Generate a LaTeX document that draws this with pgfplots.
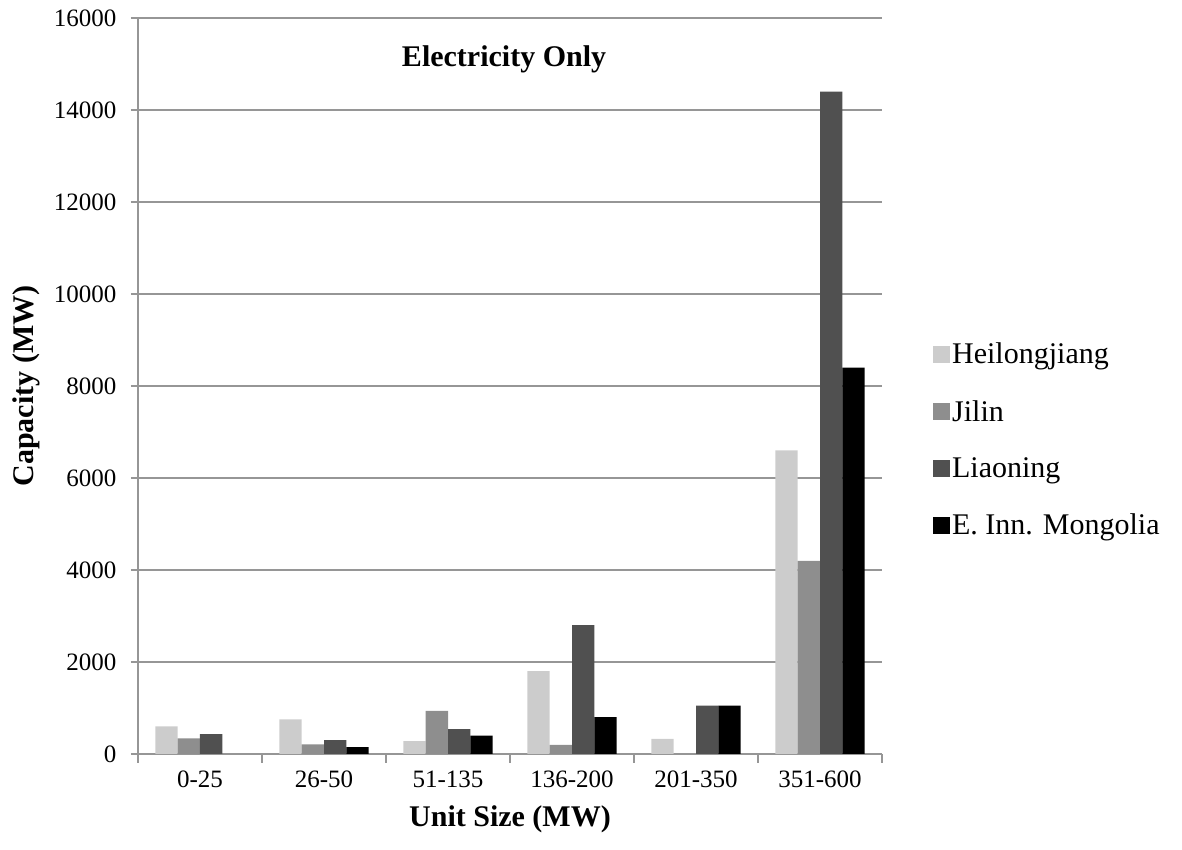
\documentclass[border=0pt]{standalone}
\usepackage{fontspec}
\setmainfont{Liberation Serif}
\usepackage{pgfplots}
\pgfplotsset{compat=1.18}
\definecolor{axgray}{RGB}{150,150,150}
\definecolor{cHei}{RGB}{204,204,204}
\definecolor{cJil}{RGB}{142,142,142}
\definecolor{cLia}{RGB}{80,80,80}
\definecolor{cEIM}{RGB}{0,0,0}
\pgfplotsset{myleg/.style={legend image code/.code={\fill[##1] (0pt,-8.5pt) rectangle (17pt,8.5pt);}}}
\begin{document}
\begin{tikzpicture}
\begin{axis}[
  scale only axis, width=744pt, height=736pt,
  xmin=-0.5, xmax=5.5, ymin=0, ymax=16000,
  ybar=0pt, bar width=0.18,
  xtick={0,...,5},
  xticklabels={0-25,26-50,51-135,136-200,201-350,351-600},
  minor xtick={-0.5,0.5,...,5.5},
  major x tick style={draw=none},
  minor tick length=9pt, major tick length=7pt,
  tick align=outside,
  ytick={0,2000,...,16000},
  scaled y ticks=false,
  /pgf/number format/1000 sep={},
  /pgf/number format/assume math mode=true,
  axis x line*=bottom, axis y line*=left,
  axis line style={axgray, line width=1.5pt, -},
  ymajorgrids, grid style={axgray, line width=1.5pt},
  every tick/.style={axgray, line width=1.5pt},
  tick label style={font=\fontsize{25}{30}\selectfont, black},
  xticklabel style={yshift=-6pt},
  yticklabel style={xshift=-11pt},
  xlabel={Unit Size (MW)},
  ylabel={Capacity (MW)},
  label style={font=\fontsize{30}{36}\selectfont\bfseries},
  xlabel style={at={(axis description cs:0.5,0)}, anchor=center, yshift=-65pt},
  ylabel style={at={(axis description cs:-0.150,0.5)}, anchor=center},
  title={Electricity Only},
  title style={at={(axis description cs:0.492,0.936)}, anchor=center, font=\fontsize{30}{36}\selectfont\bfseries},
  legend style={at={(axis description cs:1.0685,0.427)}, anchor=west, draw=none, fill=none,
    font=\fontsize{30}{36}\selectfont, row sep=31pt, inner sep=0pt,
    /tikz/every even column/.append style={column sep=6pt}},
  legend cell align=left,
]
\addplot[fill=cHei, draw=none, myleg] coordinates {(0,600) (1,750) (2,280) (3,1800) (4,330) (5,6600)};
\addplot[fill=cJil, draw=none, myleg] coordinates {(0,340) (1,210) (2,940) (3,200) (5,4200)};
\addplot[fill=cLia, draw=none, myleg] coordinates {(0,430) (1,300) (2,540) (3,2800) (4,1050) (5,14400)};
\addplot[fill=cEIM, draw=none, myleg] coordinates {(1,150) (2,400) (3,800) (4,1050) (5,8400)};
\legend{Heilongjiang, Jilin, Liaoning, E. Inn. Mongolia}
\end{axis}
\pgfresetboundingbox
\path (-138pt,-96pt) rectangle (1044pt,754pt);
\end{tikzpicture}
\end{document}
